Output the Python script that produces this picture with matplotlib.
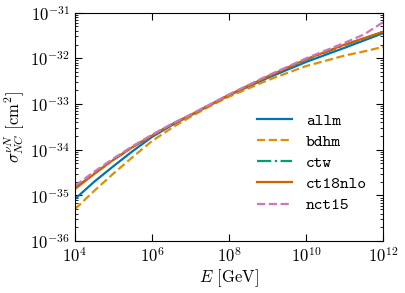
import numpy as np
import matplotlib
matplotlib.use("Agg")
import matplotlib.pyplot as plt
from matplotlib.ticker import LogLocator, NullLocator

plt.rcParams["font.family"] = "serif"
plt.rcParams["font.serif"] = ["cmr10"]
plt.rcParams["mathtext.fontset"] = "cm"
plt.rcParams["axes.formatter.use_mathtext"] = True
plt.rcParams["axes.unicode_minus"] = False

# log10(E / GeV) sample points and log10(sigma / cm^2)
log_e = [4, 4.5, 5, 5.5, 6, 6.5, 7, 7.5, 8, 9, 10, 11, 11.5, 12]
allm = [-35.08, -34.70, -34.36, -34.03, -33.72, -33.47, -33.25, -33.03, -32.81,
        -32.43, -32.08, -31.77, -31.61, -31.45]
bdhm = [-35.30, -34.90, -34.52, -34.16, -33.81, -33.53, -33.28, -33.05, -32.84,
        -32.48, -32.17, -31.94, -31.85, -31.75]
ctw = [-34.84, -34.52, -34.22, -33.94, -33.69, -33.45, -33.24, -33.02, -32.80,
       -32.40, -32.03, -31.71, -31.57, -31.43]
ct18nlo = [-34.86, -34.53, -34.22, -33.94, -33.69, -33.45, -33.24, -33.02, -32.80,
           -32.40, -32.02, -31.70, -31.56, -31.42]
nct15 = [-34.79, -34.48, -34.19, -33.92, -33.67, -33.44, -33.23, -33.01, -32.79,
         -32.38, -32.00, -31.66, -31.48, -31.21]

labels = ["allm", "bdhm", "ctw", "ct18nlo", "nct15"]
colors = ["#0173b2", "#de8f05", "#029e73", "#d55e00", "#cc78bc"]
styles = ["-", "--", "-.", "-", "--"]

fig = plt.figure(figsize=(4.05, 2.93), dpi=100)
ax = fig.add_axes([0.185, 0.177, 0.761, 0.780])

energy = 10.0 ** np.array(log_e)
for name, vals, c, ls in zip(labels, [allm, bdhm, ctw, ct18nlo, nct15], colors, styles):
    ax.plot(energy, 10.0 ** np.array(vals), color=c, ls=ls, lw=1.6, label=name)

ax.set_xscale("log")
ax.set_yscale("log")
ax.set_xlim(1e4, 1e12)
ax.set_ylim(1e-36, 1e-31)
ax.xaxis.set_major_locator(LogLocator(base=100))
ax.xaxis.set_minor_locator(NullLocator())
ax.yaxis.set_major_locator(LogLocator(base=10))
ax.yaxis.set_minor_locator(LogLocator(base=10, subs=np.arange(2, 10)))
ax.tick_params(which="both", direction="in", top=True, right=True, labelsize=12)
ax.tick_params(which="major", length=5)
ax.tick_params(which="minor", length=2.5)

ax.set_xlabel(r"$E$ [GeV]", fontsize=12, labelpad=2)
ax.set_ylabel(r"$\sigma_{NC}^{\nu N}$ [cm$^2$]", fontsize=12, labelpad=2)

ax.legend(loc="upper left", bbox_to_anchor=(0.591, 0.56), frameon=False,
          prop={"family": "cmtt10", "size": 12}, handlelength=2.1,
          handletextpad=0.85, labelspacing=0.33, borderpad=0, borderaxespad=0)

fig.savefig("out.png", dpi=100)
